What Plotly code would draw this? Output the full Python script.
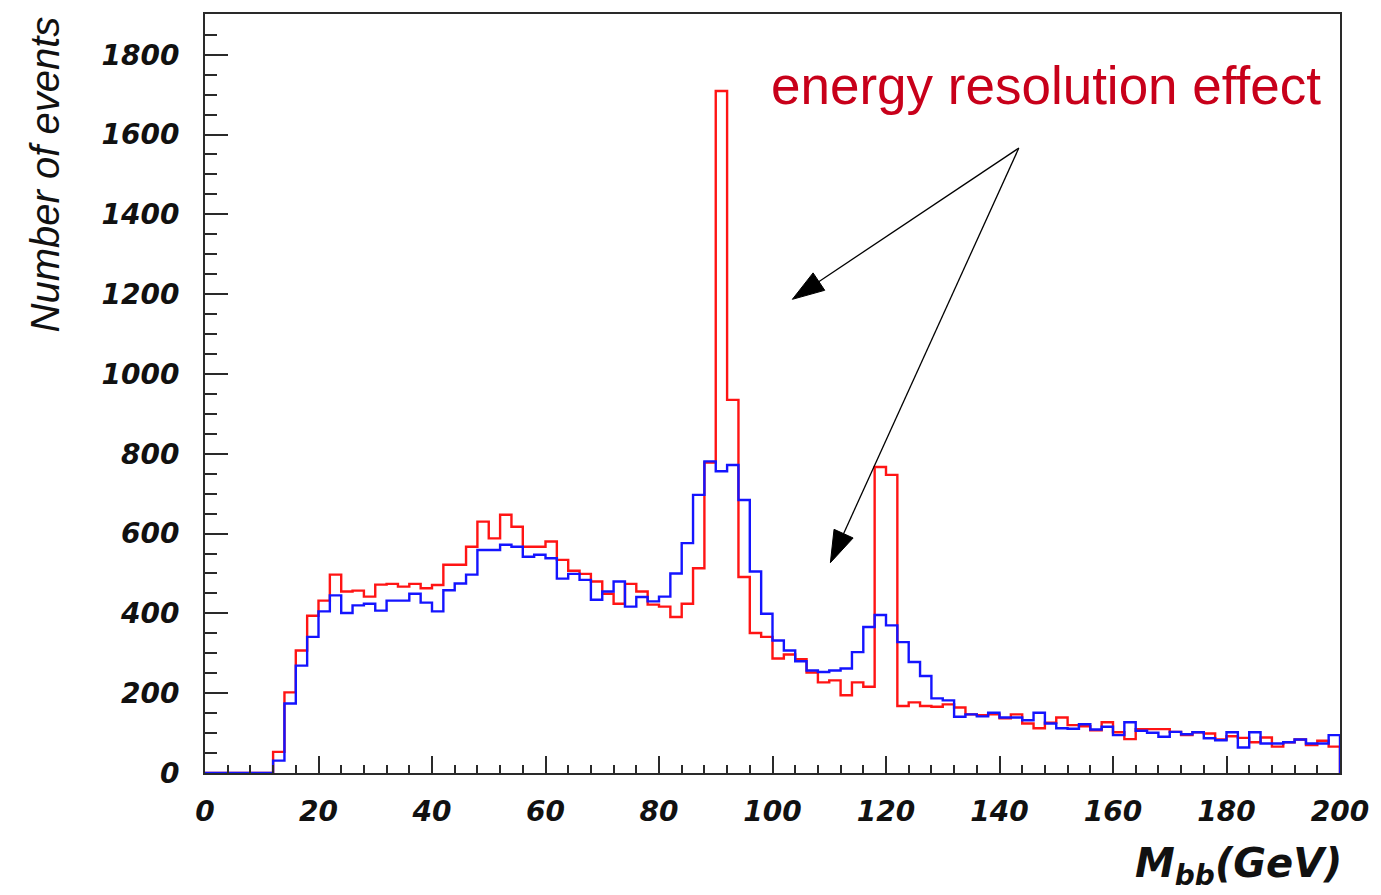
import plotly.graph_objects as go
import math

# ---------------- data (2 GeV bins from 0 to 200) ----------------
bin_edges = [2 * i for i in range(101)]

red_counts = [
    0, 0, 0, 0, 0, 0, 53, 202, 307, 394,
    432, 497, 455, 457, 442, 472, 474, 467, 474, 463,
    471, 522, 522, 567, 630, 588, 647, 617, 567, 567,
    580, 534, 507, 499, 480, 449, 424, 474, 455, 422,
    417, 391, 424, 513, 778, 1709, 935, 491, 351, 341,
    287, 297, 285, 252, 227, 232, 195, 227, 216, 767,
    747, 168, 177, 168, 166, 172, 164, 147, 145, 147,
    137, 147, 124, 112, 126, 139, 120, 117, 107, 127,
    102, 85, 110, 110, 110, 103, 95, 102, 99, 84,
    92, 88, 77, 89, 66, 77, 84, 70, 81, 66,
]

blue_counts = [
    0, 0, 0, 0, 0, 0, 31, 174, 269, 341,
    405, 445, 401, 420, 424, 407, 432, 432, 449, 427,
    405, 458, 475, 497, 559, 559, 572, 567, 542, 547,
    538, 487, 499, 484, 434, 455, 480, 417, 441, 430,
    442, 500, 576, 697, 781, 756, 772, 684, 505, 399,
    332, 307, 280, 257, 253, 257, 262, 303, 366, 396,
    370, 328, 278, 243, 187, 182, 141, 147, 142, 151,
    139, 139, 132, 151, 124, 112, 111, 122, 109, 116,
    95, 127, 106, 101, 91, 103, 97, 102, 87, 82,
    102, 64, 102, 74, 74, 77, 84, 74, 74, 95,
]

x_tick_vals = [0, 20, 40, 60, 80, 100, 120, 140, 160, 180, 200]
x_tick_text = ["0", "20", "40", "60", "80", "100", "120", "140", "160", "180", "200"]
y_tick_vals = [0, 200, 400, 600, 800, 1000, 1200, 1400, 1600, 1800]
y_tick_text = ["0", "200", "400", "600", "800", "1000", "1200", "1400", "1600", "1800"]

annotation_text = "energy resolution effect"
x_title = "M<sub>bb</sub>(GeV)"
y_title = "Number of events"

# arrow geometry in data units (tail shared, two tips)
arrow_tail = (143.4, 1566)
arrow_tips = [(103.5, 1187), (110.2, 527)]

# ---------------- layout constants ----------------
W, H = 1381, 895
PL, PR, PT, PB = 205, 1343, 12, 773
X_RANGE = (0, 200)
Y_RANGE = (0, 1902)


def to_px(x, y):
    px = PL + (x - X_RANGE[0]) / (X_RANGE[1] - X_RANGE[0]) * (PR - PL)
    py = PB - (y - Y_RANGE[0]) / (Y_RANGE[1] - Y_RANGE[0]) * (PB - PT)
    return px, py


def px_to_paper(px, py):
    return (px - PL) / (PR - PL), (PB - py) / (PB - PT)


def step_xy(counts):
    xs = list(bin_edges[:-1]) + [bin_edges[-1], bin_edges[-1]]
    ys = list(counts) + [counts[-1], 0]
    return xs, ys


fig = go.Figure()
rx, ry = step_xy(red_counts)
bx, by = step_xy(blue_counts)
fig.add_trace(go.Scatter(x=rx, y=ry, mode="lines", line=dict(color="rgb(255,20,20)", width=2.4, shape="hv"),
                         showlegend=False, hoverinfo="skip"))
fig.add_trace(go.Scatter(x=bx, y=by, mode="lines", line=dict(color="rgb(20,20,255)", width=2.4, shape="hv"),
                         showlegend=False, hoverinfo="skip"))

tick_font = dict(family="DejaVu Sans", size=28, color="#111", weight="bold", style="italic")

fig.update_xaxes(
    range=list(X_RANGE), showgrid=False, zeroline=False,
    showline=True, mirror=True, linecolor="#2a2a2a", linewidth=2,
    ticks="inside", ticklen=17, tickwidth=2, tickcolor="#2a2a2a",
    tickvals=x_tick_vals, ticktext=x_tick_text, tickfont=tick_font,
    ticklabelstandoff=12,
    minor=dict(ticks="inside", ticklen=8, tickwidth=1.6, tickcolor="#2a2a2a", dtick=4, showgrid=False),
)
fig.update_yaxes(
    range=list(Y_RANGE), showgrid=False, zeroline=False,
    showline=True, mirror=True, linecolor="#2a2a2a", linewidth=2,
    ticks="inside", ticklen=23, tickwidth=2, tickcolor="#2a2a2a",
    tickvals=y_tick_vals, ticktext=y_tick_text, tickfont=tick_font,
    ticklabelstandoff=18,
    minor=dict(ticks="inside", ticklen=12, tickwidth=1.6, tickcolor="#2a2a2a", dtick=50, showgrid=False),
)

shapes = []
tx, ty = to_px(*arrow_tail)
head_len, head_half = 32, 10.5
for tip in arrow_tips:
    hx, hy = to_px(*tip)
    dx, dy = hx - tx, hy - ty
    d = math.hypot(dx, dy)
    ux, uy = dx / d, dy / d
    bxp, byp = hx - head_len * ux, hy - head_len * uy
    nx, ny = -uy, ux
    c1 = (bxp + head_half * nx, byp + head_half * ny)
    c2 = (bxp - head_half * nx, byp - head_half * ny)
    a0 = px_to_paper(tx, ty)
    a1 = px_to_paper(bxp + 2 * ux, byp + 2 * uy)
    shapes.append(dict(type="line", xref="paper", yref="paper", x0=a0[0], y0=a0[1], x1=a1[0], y1=a1[1],
                       line=dict(color="black", width=1.3)))
    p_tip = px_to_paper(hx, hy)
    p1 = px_to_paper(*c1)
    p2 = px_to_paper(*c2)
    path = f"M {p_tip[0]},{p_tip[1]} L {p1[0]},{p1[1]} L {p2[0]},{p2[1]} Z"
    shapes.append(dict(type="path", xref="paper", yref="paper", path=path,
                       fillcolor="black", line=dict(color="black", width=1)))

ann = []
ex, ey = px_to_paper(770, 84)
ann.append(dict(text=annotation_text, xref="paper", yref="paper", x=ex, y=ey, xanchor="left", yanchor="middle",
                showarrow=False, font=dict(family="Liberation Sans, Arial", size=53, color="#c8001a")))
yx, yy = px_to_paper(45, 12)
ann.append(dict(text=y_title, xref="paper", yref="paper", x=yx, y=yy, xanchor="center", yanchor="top",
                textangle=-90, showarrow=False,
                font=dict(family="Liberation Sans, Arial", size=40, color="#111", style="italic")))
mx, my = px_to_paper(1347, 866)
ann.append(dict(text=x_title, xref="paper", yref="paper", x=mx, y=my, xanchor="right", yanchor="middle",
                showarrow=False,
                font=dict(family="DejaVu Sans", size=40, color="#111", weight="bold", style="italic")))

fig.update_layout(
    width=W, height=H,
    margin=dict(l=PL, r=W - PR, t=PT, b=H - PB, pad=0),
    paper_bgcolor="white", plot_bgcolor="white",
    shapes=shapes, annotations=ann,
)

fig.write_html("out.html", include_plotlyjs=True, full_html=True,
               config=dict(displayModeBar=False))
